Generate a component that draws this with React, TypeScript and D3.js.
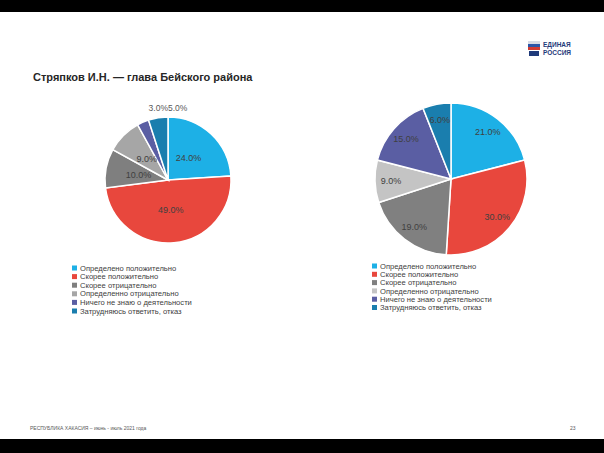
import * as d3 from "d3"

const categories = [
    "Определено положительно",
    "Скорее положительно",
    "Скорее отрицательно",
    "Определенно отрицательно",
    "Ничего не знаю о деятельности",
    "Затрудняюсь ответить, отказ",
]
const leftValues = [24, 49, 10, 9, 3, 5]
const rightValues = [21, 30, 19, 9, 15, 6]
const leftColors = ["#1DB0E6", "#E8473D", "#7F7F7F", "#A6A6A6", "#5A5EA3", "#1A7EAE"]
const rightColors = ["#1DB0E6", "#E8473D", "#808080", "#C4C4C4", "#5A5EA3", "#1A7EAE"]

const title = "Стряпков И.Н. — глава Бейского района"
const footer = "РЕСПУБЛИКА ХАКАСИЯ – июнь - июль 2021 года"
const pageNo = "23"

const W = 604
const H = 453
const font = "'Liberation Sans', Arial, sans-serif"

type PieProps = {
    values: number[]
    colors: string[]
    cx: number
    cy: number
    r: number
    labelR: number
    outsideSmall?: boolean
}

function Pie({ values, colors, cx, cy, r, labelR, outsideSmall }: PieProps) {
    const pie = d3.pie<number>().value(d => d).sort(null)
    const arcs = pie(values)
    const arc = d3.arc<d3.PieArcDatum<number>>().innerRadius(0).outerRadius(r)
    const labelArc = d3.arc<d3.PieArcDatum<number>>().innerRadius(labelR).outerRadius(labelR)
    const fmt = d3.format(".1f")

    return (
        <g transform={`translate(${cx},${cy})`}>
            {arcs.map((d, i) => (
                <path key={i} d={arc(d) || ""} fill={colors[i]} stroke="#fff" strokeWidth={1.5} />
            ))}
            {arcs.map((d, i) => {
                const small = outsideSmall && d.data < 6
                if (small) {
                    // tiny slices: labels sit above the pie, split at the centre line
                    const left = d.data < 4
                    return (
                        <text key={"l" + i} x={0} y={-r - 6}
                            textAnchor={left ? "end" : "start"}
                            fontSize={8.5} fill="#595959" fontFamily={font}>
                            {fmt(d.data)}%
                        </text>
                    )
                }
                const [x, y] = labelArc.centroid(d)
                return (
                    <text key={"l" + i} x={x} y={y} dy="0.35em" textAnchor="middle"
                        fontSize={9} fill="#404040" fontFamily={font}>
                        {fmt(d.data)}%
                    </text>
                )
            })}
        </g>
    )
}

function Legend({ x, y, step, colors }: { x: number; y: number; step: number; colors: string[] }) {
    return (
        <g transform={`translate(${x},${y})`}>
            {categories.map((c, i) => (
                <g key={c} transform={`translate(0,${i * step})`}>
                    <rect x={0} y={-2.5} width={5} height={5} fill={colors[i]} />
                    <text x={8} y={0} dy="0.35em" fontSize={7.6} fill="#404040" fontFamily={font}>{c}</text>
                </g>
            ))}
        </g>
    )
}

export default function App() {
    return (
        <svg width={W} height={H} viewBox={`0 0 ${W} ${H}`}
            style={{ position: "fixed", left: 0, top: 0, background: "#fff" }}>
            <rect x={0} y={0} width={W} height={12} fill="#000" />
            <rect x={0} y={439} width={W} height={H - 439} fill="#000" />

            {/* logo */}
            <g transform="translate(528,41)">
                <rect x={0} y={0} width={12} height={9} fill="#d7dbe6" />
                <rect x={0} y={3} width={12} height={3} fill="#2b56a8" />
                <rect x={0} y={6} width={12} height={3} fill="#d23a32" />
                <rect x={1} y={10} width={10} height={5} fill="#1F3A7A" />
                <text x={15} y={6} fontSize={6.5} fontWeight="bold" fill="#1F3A7A" fontFamily={font}>ЕДИНАЯ</text>
                <text x={15} y={14} fontSize={6.5} fontWeight="bold" fill="#1F3A7A" fontFamily={font}>РОССИЯ</text>
            </g>

            <text x={33} y={81} fontSize={11} fontWeight="bold" fill="#262626" fontFamily={font}>{title}</text>

            <Pie values={leftValues} colors={leftColors} cx={168} cy={180} r={63} labelR={30} outsideSmall />
            <Pie values={rightValues} colors={rightColors} cx={451} cy={179} r={76} labelR={60} />

            <Legend x={72} y={268} step={8.6} colors={leftColors} />
            <Legend x={372} y={266} step={8.3} colors={rightColors} />

            <text x={30} y={430} fontSize={5} fill="#595959" fontFamily={font}>{footer}</text>
            <text x={570} y={430} fontSize={5} fill="#595959" fontFamily={font}>{pageNo}</text>
        </svg>
    )
}
